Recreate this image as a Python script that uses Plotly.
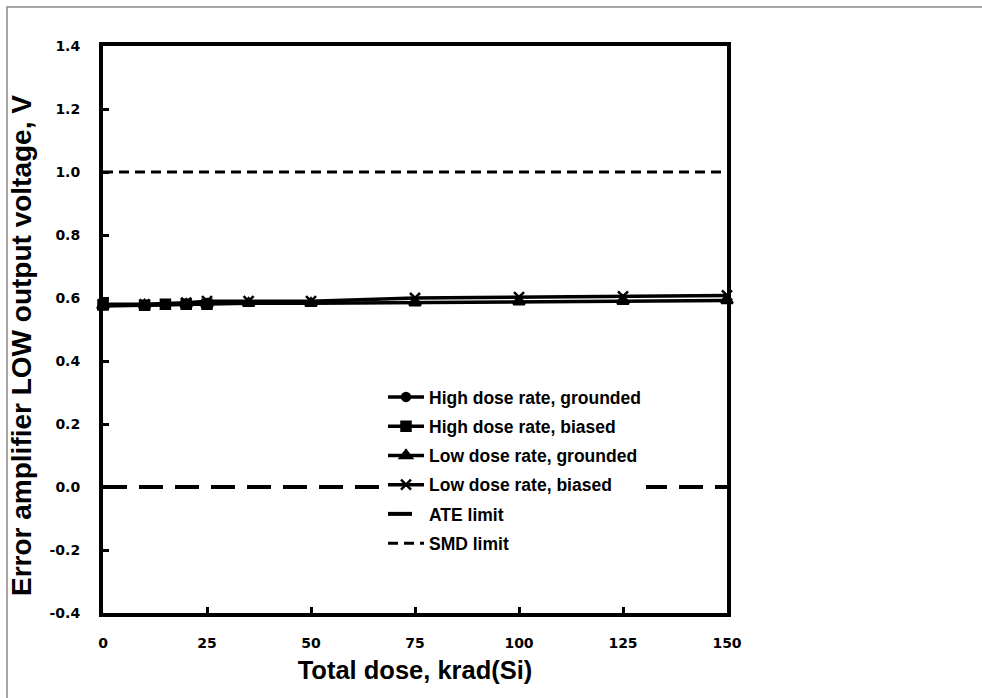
import plotly.graph_objects as go

# ---- data ----
hdr_dose = [0, 10, 15, 20, 25]
hdr_grounded = [0.578, 0.578, 0.580, 0.580, 0.582]
hdr_biased = [0.578, 0.577, 0.580, 0.580, 0.580]

ldr_dose = [0, 10, 20, 25, 35, 50, 75, 100, 125, 150]
ldr_grounded = [0.575, 0.578, 0.580, 0.580, 0.583, 0.583, 0.585, 0.588, 0.590, 0.592]
ldr_biased = [0.580, 0.580, 0.585, 0.590, 0.590, 0.590, 0.600, 0.603, 0.605, 0.608]

limit_dose = [0, 150]
ate_limit = [0.0, 0.0]
smd_limit = [1.0, 1.0]

x_ticks = [0, 25, 50, 75, 100, 125, 150]
y_ticks = [-0.4, -0.2, 0.0, 0.2, 0.4, 0.6, 0.8, 1.0, 1.2, 1.4]

x_title = "Total dose, krad(Si)"
y_title = "Error amplifier LOW output voltage, V"

W, H = 982, 698
L, R, T, B = 103, 255, 46, 85
pw, ph = W - L - R, H - T - B

fig = go.Figure()

series = [
    ("High dose rate, grounded", hdr_dose, hdr_grounded, "circle", 8),
    ("High dose rate, biased", hdr_dose, hdr_biased, "square", 9),
    ("Low dose rate, grounded", ldr_dose, ldr_grounded, "triangle-up", 10),
    ("Low dose rate, biased", ldr_dose, ldr_biased, "x-thin", 10),
]
for i, (name, xs, ys, sym, sz) in enumerate(series):
    fig.add_trace(go.Scatter(
        x=xs, y=ys, name=name, mode="lines+markers",
        line=dict(color="black", width=3.5),
        marker=dict(symbol=sym, size=sz, color="black",
                    line=dict(color="black", width=2.5)),
        legendgroup=f"g{i}", cliponaxis=False,
    ))

fig.add_trace(go.Scatter(
    x=limit_dose, y=ate_limit, name="ATE limit", mode="lines",
    line=dict(color="black", width=4, dash="24px,12px"), legendgroup="g4",
))
fig.add_trace(go.Scatter(
    x=limit_dose, y=smd_limit, name="SMD limit", mode="lines",
    line=dict(color="black", width=3, dash="10px,6px"), legendgroup="g5",
))

# outer chart frame (only left and top edges visible)
fig.add_shape(type="rect", xref="paper", yref="paper",
              x0=(7 - L) / pw, x1=(1100 - L) / pw,
              y0=-(800 - T - ph) / ph, y1=1 + (T - 7) / ph,
              line=dict(color="#8a8a8a", width=1.5), layer="below")

# y-axis title as annotation (positioned like the reference)
fig.add_annotation(
    text=y_title, xref="paper", yref="paper",
    x=(21 - L) / pw, y=(H - B - 346) / ph, xanchor="center", yanchor="middle",
    textangle=-90, showarrow=False,
    font=dict(family="Liberation Sans", size=28, color="black", weight="bold"),
)

tickfont = dict(family="DejaVu Sans", size=14, color="black", weight="bold")
fig.update_layout(
    width=W, height=H,
    margin=dict(l=L, r=R, t=T, b=B, autoexpand=False),
    paper_bgcolor="white", plot_bgcolor="white",
    showlegend=True,
    legend=dict(
        x=(383 - L) / pw, y=(H - B - 379) / ph, xanchor="left", yanchor="top",
        bgcolor="white", borderwidth=0,
        font=dict(family="Liberation Sans", size=17.5, color="black", weight="bold"),
        traceorder="grouped", tracegroupgap=3.5, itemwidth=36,
    ),
    xaxis=dict(
        range=[0, 150], tickvals=x_ticks, ticktext=[str(v) for v in x_ticks],
        showline=True, linecolor="black", linewidth=4, mirror=True,
        ticks="inside", ticklen=6, tickwidth=3, tickcolor="black",
        showgrid=False, zeroline=False, tickfont=tickfont, automargin=False,
        ticklabelstandoff=14,
        title=dict(text=x_title, standoff=12,
                   font=dict(family="Liberation Sans", size=25.5, color="black", weight="bold")),
    ),
    yaxis=dict(
        range=[-0.4, 1.4], tickvals=y_ticks, ticktext=[f"{v:.1f}" for v in y_ticks],
        showline=True, linecolor="black", linewidth=4, mirror=True,
        ticks="inside", ticklen=6, tickwidth=3, tickcolor="black",
        showgrid=False, zeroline=False, tickfont=tickfont, automargin=False,
        ticklabelstandoff=16,
    ),
)

fig.write_html("out.html", config={"displayModeBar": False},
               post_script="document.body.style.margin='0';")
